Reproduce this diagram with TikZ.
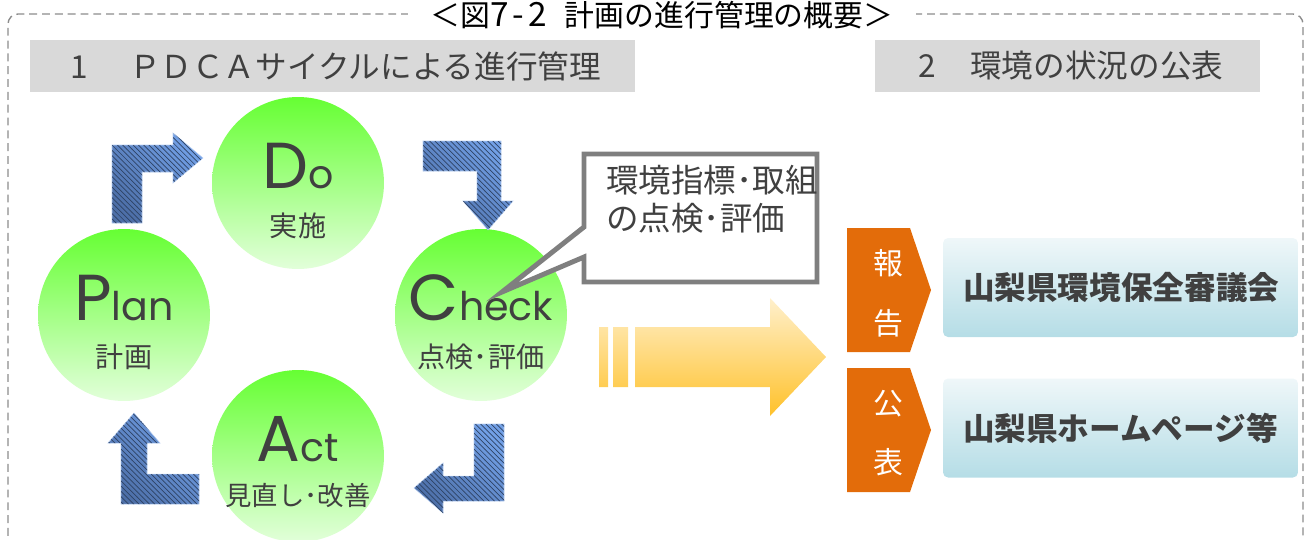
\documentclass[tikz,border=0pt]{standalone}
\usepackage{fontspec}
\setmainfont{Poppins}
\newfontfamily\jp{Noto Sans CJK JP}
\usetikzlibrary{calc,patterns}

\definecolor{txtgray}{HTML}{404040}
\definecolor{headgray}{HTML}{D9D9D9}
\definecolor{leafgreen}{HTML}{66FF33}
\definecolor{palegreen}{HTML}{E2FFDA}
\definecolor{arrowdark}{HTML}{4D6FA8}
\definecolor{arrowlight}{HTML}{72A0E6}
\definecolor{taborange}{HTML}{E36C0A}
\definecolor{boxtop}{HTML}{EFF7F9}
\definecolor{boxbottom}{HTML}{B5DDE6}
\definecolor{goldtop}{HTML}{FFF0CC}
\definecolor{goldbottom}{HTML}{FFC12A}
\definecolor{framegray}{HTML}{8C8C8C}
\definecolor{calloutgray}{HTML}{7F7F7F}

\newcommand\bigletter[1]{{\fontsize{37}{37}\selectfont #1}}

\begin{document}
\begin{tikzpicture}[x=0.02cm, y=-0.02cm,
    phase/.style={circle, minimum size=3.44cm, inner sep=0pt,
        top color=leafgreen, bottom color=palegreen, draw=none},
    word/.style={anchor=base, inner sep=0pt, text=txtgray,
        font=\fontsize{22.5}{22.5}\selectfont},
    sub/.style={inner sep=0pt, text=txtgray, font=\jp\fontsize{16}{16}\selectfont},
    turn/.style={top color=arrowlight, bottom color=arrowdark, shading angle=-45,
        draw=arrowlight!50, line width=0.3pt,
        postaction={pattern=north west lines, pattern color=arrowdark!60!black, fill opacity=0.15}},
    heading/.style={fill=headgray, text=txtgray, font=\jp\fontsize{18}{18}\selectfont,
        minimum height=1.04cm, align=left, anchor=west},
    tabshape/.style={fill=taborange},
    tabtext/.style={text=white, inner sep=0pt, font=\jp\fontsize{17}{34}\selectfont, align=center},
    infobox/.style={rounded corners=0.1cm, top color=boxtop, bottom color=boxbottom,
        minimum height=1.98cm, inner xsep=0.4cm, text width=6.3cm, align=left,
        text=txtgray, font=\jp\bfseries\fontsize{18}{18}\selectfont},
    callout/.style={draw=calloutgray, line width=2.8pt, fill=white, line join=miter},
    flow/.style={top color=goldtop, bottom color=goldbottom}]

    \useasboundingbox (0,0) rectangle (1312,539);
    \clip (0,0) rectangle (1312,539);

    % frame and title
    \draw[framegray, line width=0.8pt, dash pattern=on 4.5pt off 2.8pt, rounded corners=0.2cm]
        (8,600) |- (1303,14) -- (1303,600);
    \node[fill=white, inner xsep=0.45cm, inner ysep=2pt, font=\jp\fontsize{17}{17}\selectfont]
        (title) at (662,15.5) {＜図{\fontsize{19}{19}\selectfont 7\hspace{0.12em}-\hspace{0.12em}2}\hspace{0.6em}計画の進行管理の概要＞};

    % headings
    \node[heading, inner xsep=0.8cm, text width=10.5cm] (head1) at (30,66)
        {1\hspace{1.3em}ＰＤＣＡサイクルによる進行管理};
    \node[heading, inner xsep=0.6cm, text width=6.5cm] (head2) at (875,66)
        {\hspace{0.4em}2\hspace{1.1em}環境の状況の公表};

    % PDCA cycle
    \node[phase] (plan) at (124,315) {};
    \node[phase] (do) at (298,183) {};
    \node[phase] (check) at (481,315) {};
    \node[phase] (act) at (298,456) {};

    \node[word] (planword) at ($(plan)+(0,5)$) {\bigletter{P}lan};
    \node[sub] (plansub) at ($(plan)+(0,42)$) {計画};
    \node[word] (doword) at ($(do)+(0,5)$) {\bigletter{D}o};
    \node[sub] (dosub) at ($(do)+(0,43)$) {実施};
    \node[word] (checkword) at ($(check)+(0,5)$) {\bigletter{C}heck};
    \node[sub] (checksub) at ($(check)+(0,42)$) {点検･評価};
    \node[word] (actword) at ($(act)+(0,5)$) {\bigletter{A}ct};
    \node[sub, font=\jp\fontsize{15}{15}\selectfont] (actsub) at ($(act)+(0,39)$) {見直し･改善};

    % turning arrows
    \shade[turn] (112,223) -- (112,145) -- (173,145) -- (173,133) -- (203,158)
        -- (173,183) -- (173,172) -- (142,172) -- (142,223) -- cycle;
    \shade[turn] (423,141) -- (501,141) -- (501,201) -- (513,201) -- (488,230)
        -- (463,201) -- (477,201) -- (477,171) -- (423,171) -- cycle;
    \shade[turn] (504,424) -- (504,501) -- (443,501) -- (443,513) -- (414,488)
        -- (443,463) -- (443,476) -- (474,476) -- (474,424) -- cycle;
    \shade[turn] (199,504) -- (121,504) -- (121,443) -- (108,443) -- (134,413)
        -- (160,443) -- (147,443) -- (147,474) -- (199,474) -- cycle;

    % callout
    \coordinate (notetip) at ($(check)+(21,-23)$);
    \draw[callout] (584,154) -| (817,282) -| (584,257) -- (notetip) -- (584,227) -- cycle;
    \node[anchor=north west, align=left, inner sep=0pt, text=txtgray,
        font=\jp\fontsize{18.5}{21.5}\selectfont] (notetext) at (606,165)
        {環境指標･取組\\の点検･評価};

    % big arrow
    \shade[flow] (599,327) rectangle (608,387) (613,327) rectangle (628,387)
        (635,327) -- (770,327) -- (770,298) -- (826,357) -- (770,416) -- (770,387)
        -- (635,387) -- cycle;

    % report and publication
    \fill[tabshape] (847,228) -- (910,228) -- (931,290) -- (910,352) -- (847,352) -- cycle;
    \node[tabtext] (report) at (888,293) {報\\告};
    \fill[tabshape] (847,368) -- (910,368) -- (931,430) -- (910,492) -- (847,492) -- cycle;
    \node[tabtext] (publish) at (888,433) {公\\表};

    \node[infobox] (council) at (1120.5,287.5) {山梨県環境保全審議会};
    \node[infobox] (website) at (1120.5,428) {山梨県ホームページ等};
\end{tikzpicture}
\end{document}
